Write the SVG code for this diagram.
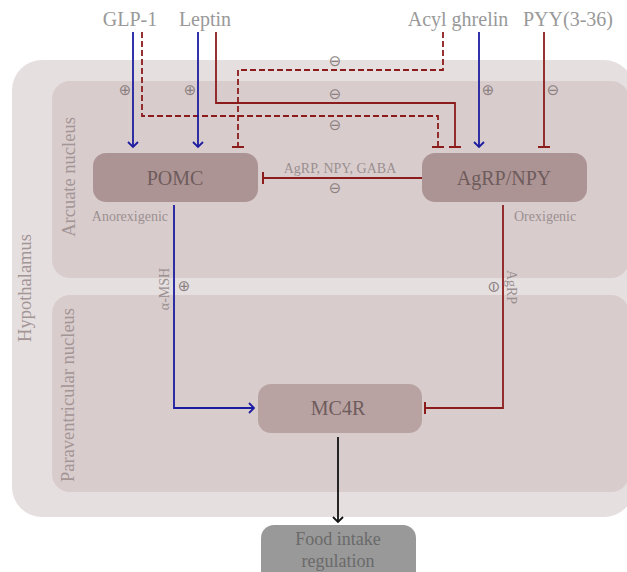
<svg xmlns="http://www.w3.org/2000/svg" width="627" height="572" viewBox="0 0 627 572">
<style>
.lbl{font-family:"Liberation Serif",serif;fill:#999999}
.reg{font-family:"Liberation Serif",serif;fill:#a39595;font-size:18.5px}
.nt{font-family:"Liberation Serif",serif;fill:#6e5c5c;font-size:20px;text-anchor:middle}
.sm{font-family:"Liberation Serif",serif;fill:#9a9090;font-size:14px}
.sym{font-family:"DejaVu Sans",sans-serif;fill:#8a8080;font-size:15px;text-anchor:middle}
.blue{stroke:#1c1ca0;stroke-width:1.8;fill:none}
.red{stroke:#8c1c1c;stroke-width:1.8;fill:none}
.dash{stroke-dasharray:6,3}
</style>
<defs>
<marker id="arB" markerUnits="userSpaceOnUse" markerWidth="14" markerHeight="14" viewBox="-7 -7 14 14" refX="0" refY="0" orient="auto"><path d="M-5,-5 L0,0 L-5,5" fill="none" stroke="#1c1ca0" stroke-width="1.8"/></marker>
<marker id="arK" markerUnits="userSpaceOnUse" markerWidth="14" markerHeight="14" viewBox="-7 -7 14 14" refX="0" refY="0" orient="auto"><path d="M-5,-5 L0,0 L-5,5" fill="none" stroke="#111" stroke-width="1.8"/></marker>
<marker id="tee" markerUnits="userSpaceOnUse" markerWidth="16" markerHeight="16" viewBox="-8 -8 16 16" refX="0" refY="0" orient="auto"><path d="M0,-6 L0,6" fill="none" stroke="#8c1c1c" stroke-width="2"/></marker>
</defs>
<g id="regions">
<rect x="12" y="60" width="622" height="457" rx="30" fill="#e6dfe0"/>
<rect x="52" y="81" width="577" height="197" rx="18" fill="#d9cccd"/>
<rect x="52" y="295" width="577" height="197" rx="18" fill="#d9cccd"/>
<text class="reg" transform="translate(31,288) rotate(-90)" text-anchor="middle">Hypothalamus</text>
<text class="reg" transform="translate(75,177) rotate(-90)" text-anchor="middle">Arcuate nucleus</text>
<text class="reg" transform="translate(74,395) rotate(-90)" text-anchor="middle">Paraventricular nucleus</text>
</g>
<g id="inputs">
<text class="lbl" x="130" y="26" font-size="20" text-anchor="middle">GLP-1</text>
<text class="lbl" x="205" y="26" font-size="20" text-anchor="middle">Leptin</text>
<text class="lbl" x="458" y="26" font-size="20" text-anchor="middle">Acyl ghrelin</text>
<text class="lbl" x="568" y="26" font-size="20" text-anchor="middle">PYY(3-36)</text>
</g>
<g id="connectors">
<path class="blue" d="M133,32 V147" marker-end="url(#arB)"/>
<path class="red dash" d="M142,32 V116 H438 V147" marker-end="url(#tee)"/>
<path class="blue" d="M198,32 V147" marker-end="url(#arB)"/>
<path class="red" d="M216,32 V103 H455 V147" marker-end="url(#tee)"/>
<path class="red dash" d="M443,32 V70 H238 V147" marker-end="url(#tee)"/>
<path class="blue" d="M479,32 V147" marker-end="url(#arB)"/>
<path class="red" d="M544,32 V147" marker-end="url(#tee)"/>
<path class="red" d="M422,178 H263" marker-end="url(#tee)"/>
<path class="blue" d="M174,205 V408 H254" marker-end="url(#arB)"/>
<path class="red" d="M503,205 V408 H425" marker-end="url(#tee)"/>
<path d="M338,437 V522" fill="none" stroke="#111" stroke-width="1.8" marker-end="url(#arK)"/>
<text class="sym" x="125" y="95">⊕</text>
<text class="sym" x="190" y="95">⊕</text>
<text class="sym" x="335" y="66">⊖</text>
<text class="sym" x="335" y="99">⊖</text>
<text class="sym" x="335" y="130">⊖</text>
<text class="sym" x="488" y="95">⊕</text>
<text class="sym" x="553" y="95">⊖</text>
<text class="sm" x="340" y="173" text-anchor="middle">AgRP, NPY, GABA</text>
<text class="sym" x="335" y="193">⊖</text>
<text class="sm" x="168" y="221" text-anchor="end">Anorexigenic</text>
<text class="sm" x="514" y="221">Orexigenic</text>
<text class="sm" transform="translate(169,289) rotate(-90)" text-anchor="middle">α-MSH</text>
<text class="sym" x="184" y="291">⊕</text>
<text class="sm" transform="translate(507,287) rotate(90)" text-anchor="middle">AgRP</text>
<text class="sym" transform="translate(494,287) rotate(90)" y="5">⊖</text>
</g>
<g id="POMC">
<rect x="93" y="153" width="165" height="49" rx="13" fill="#ad9494"/>
<text class="nt" x="175" y="185">POMC</text>
</g>
<g id="AgRP_NPY">
<rect x="422" y="153" width="165" height="49" rx="13" fill="#ad9494"/>
<text class="nt" x="504" y="185">AgRP/NPY</text>
</g>
<g id="MC4R">
<rect x="258" y="384" width="164" height="49" rx="13" fill="#b8a2a2"/>
<text class="nt" x="338" y="415">MC4R</text>
</g>
<g id="Food">
<rect x="261" y="525" width="155" height="60" rx="13" fill="#999999"/>
<text x="338" y="545" font-family="Liberation Serif,serif" font-size="18" fill="#6a6a6a" text-anchor="middle">Food intake</text>
<text x="338" y="567" font-family="Liberation Serif,serif" font-size="18" fill="#6a6a6a" text-anchor="middle">regulation</text>
</g>
</svg>
